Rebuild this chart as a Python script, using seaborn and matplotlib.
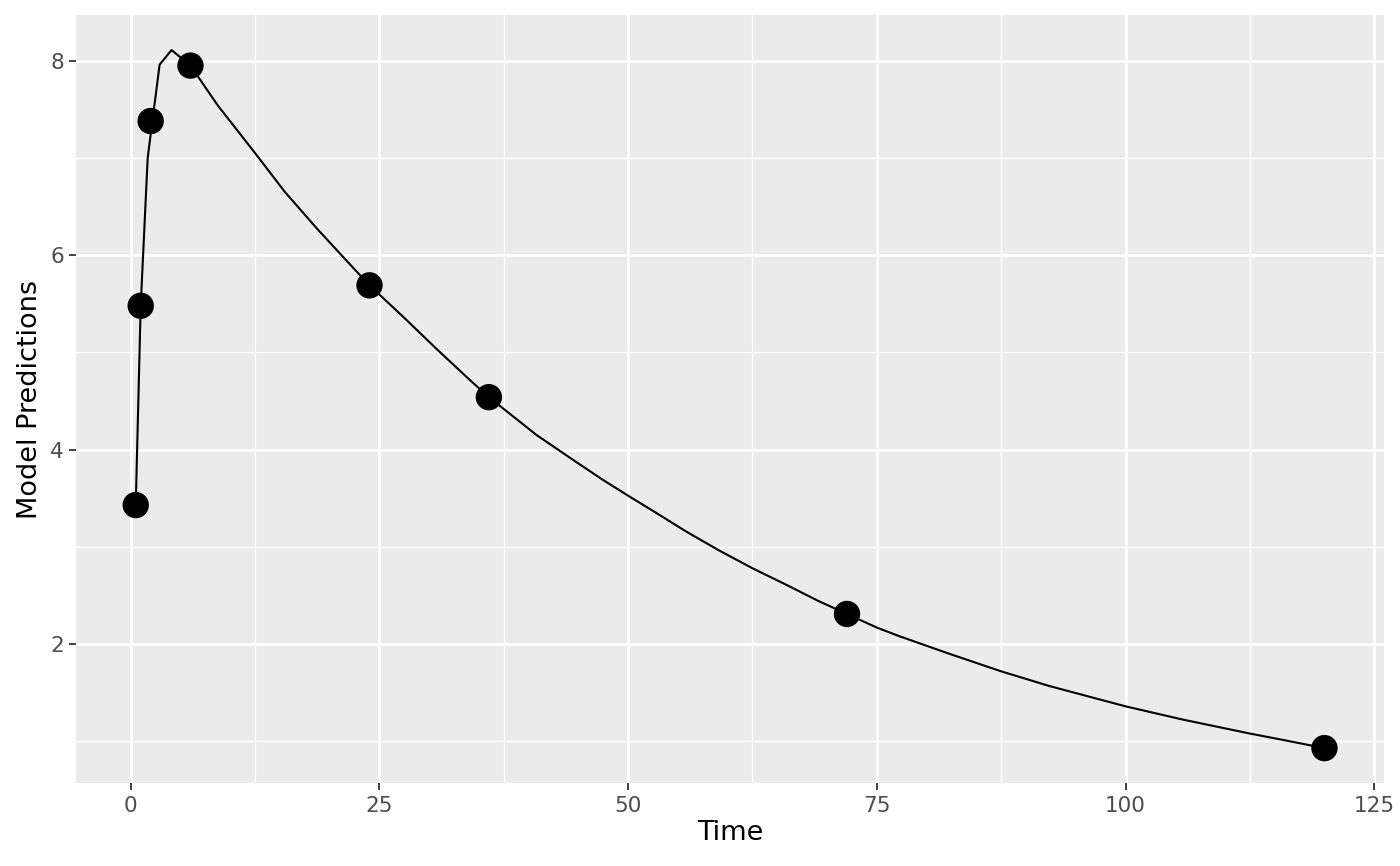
import matplotlib
matplotlib.use("Agg")
import matplotlib.pyplot as plt
import seaborn as sns
import pandas as pd
from matplotlib.ticker import MultipleLocator

obs_time = [0.5, 1, 2, 6, 24, 36, 72, 120]
obs_value = [3.43, 5.48, 7.38, 7.95, 5.69, 4.54, 2.31, 0.93]

pred_time = [0.5, 1, 1.7, 2.9, 4.1, 6, 8.75, 12.5, 15.5, 18.75, 22, 24,
             27.35, 30.7, 34.05, 36, 40.8, 44.1, 47.45, 50.1, 52.5, 55.8,
             59.2, 62.5, 65.9, 69.2, 72, 75, 77.3, 82.3, 87.5, 92.3, 100,
             105.7, 112.5, 115.8, 120]
pred_value = [3.43, 5.48, 7.0, 7.96, 8.11, 7.95, 7.54, 7.05, 6.65, 6.27, 5.91, 5.69,
              5.37, 5.04, 4.72, 4.54, 4.15, 3.92, 3.69, 3.52, 3.37, 3.16,
              2.96, 2.78, 2.61, 2.44, 2.31, 2.17, 2.08, 1.90, 1.72, 1.57, 1.36,
              1.225, 1.08, 1.015, 0.93]

x_ticks = [0, 25, 50, 75, 100, 125]
y_ticks = [2, 4, 6, 8]

obs = pd.DataFrame({"Time": obs_time, "Value": obs_value})
pred = pd.DataFrame({"Time": pred_time, "Value": pred_value})

sns.set_theme(style="darkgrid")
plt.rcParams['font.family'] = ['DejaVu Sans']

fig = plt.figure(figsize=(14, 8.66), dpi=100)
ax = fig.add_axes([0.0545, 0.0958, 0.9340, 0.8867])
ax.set_facecolor("#EBEBEB")

sns.lineplot(data=pred, x="Time", y="Value", ax=ax, color="black", linewidth=1.5, zorder=3)
sns.scatterplot(data=obs, x="Time", y="Value", ax=ax, color="black", s=360,
                edgecolor="none", zorder=4)

xmin, xmax = min(obs_time), max(obs_time)
ymin, ymax = min(pred_value), max(pred_value)
xr = xmax - xmin
yr = ymax - ymin
ax.set_xlim(xmin - 0.05 * xr, xmax + 0.05 * xr)
ax.set_ylim(ymin - 0.05 * yr, ymax + 0.05 * yr)

ax.set_xticks(x_ticks)
ax.set_yticks(y_ticks)
ax.xaxis.set_minor_locator(MultipleLocator(12.5))
ax.yaxis.set_minor_locator(MultipleLocator(1))
ax.grid(which="major", color="white", linewidth=1.9)
ax.grid(which="minor", color="white", linewidth=0.9)
ax.set_axisbelow(True)
for s in ax.spines.values():
    s.set_visible(False)

ax.tick_params(axis="both", which="major", length=5, width=1.3, color="#333333",
               labelsize=15.5, labelcolor="#4D4D4D", pad=4, bottom=True, left=True)
ax.tick_params(axis="both", which="minor", length=0)

ax.set_xlabel("Time", fontsize=19.5, color="black", labelpad=3)
ax.set_ylabel("Model Predictions", fontsize=19.5, color="black", labelpad=5)

fig.savefig("out.png", dpi=100)
